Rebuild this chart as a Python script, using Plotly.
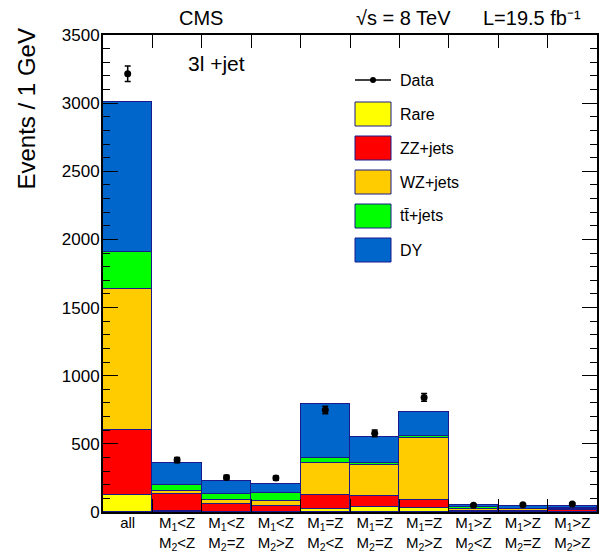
import numpy as np
import plotly.graph_objects as go

# ---------------- data ----------------
bins = ["all", "LL", "LZ", "LG", "ZL", "ZZ", "ZG", "GL", "GZ", "GG"]
tick_labels = [
    "all",
    "M<sub>1</sub>&lt;Z<br>M<sub>2</sub>&lt;Z",
    "M<sub>1</sub>&lt;Z<br>M<sub>2</sub>=Z",
    "M<sub>1</sub>&lt;Z<br>M<sub>2</sub>&gt;Z",
    "M<sub>1</sub>=Z<br>M<sub>2</sub>&lt;Z",
    "M<sub>1</sub>=Z<br>M<sub>2</sub>=Z",
    "M<sub>1</sub>=Z<br>M<sub>2</sub>&gt;Z",
    "M<sub>1</sub>&gt;Z<br>M<sub>2</sub>&lt;Z",
    "M<sub>1</sub>&gt;Z<br>M<sub>2</sub>=Z",
    "M<sub>1</sub>&gt;Z<br>M<sub>2</sub>&gt;Z",
]
rare = [125, 4, 3, 3, 20, 39, 32, 3, 3, 3]
zz_jets = [475, 126, 56, 39, 105, 78, 56, 8, 8, 9]
wz_jets = [1035, 24, 26, 39, 232, 227, 457, 11, 10, 12]
tt_jets = [275, 44, 46, 56, 37, 17, 14, 17, 3, 3]
dy = [1095, 159, 95, 68, 398, 191, 176, 12, 20, 17]
data = [3215, 381, 254, 249, 748, 577, 841, 49, 54, 59]

series_names = ["Rare", "ZZ+jets", "WZ+jets", "t\u0074\u0304+jets", "DY"]
series_vals = [rare, zz_jets, wz_jets, tt_jets, dy]
series_colors = ["#FFFF00", "#FF0000", "#FFCC00", "#00FF00", "#0066CC"]
outline = "#1a1a8c"

FONT = "Liberation Sans, Arial, Helvetica, sans-serif"

fig = go.Figure()
for name, vals, col in zip(series_names, series_vals, series_colors):
    fig.add_trace(go.Bar(
        x=bins, y=vals, name=name, width=1,
        marker=dict(color=col, line=dict(color=outline, width=1)),
        showlegend=False,
    ))

fig.add_trace(go.Scatter(
    x=bins, y=data, mode="markers", name="Data",
    marker=dict(color="black", size=7),
    error_y=dict(type="data", array=np.sqrt(np.array(data, dtype=float)),
                 color="black", thickness=1.5, width=3),
    showlegend=False,
))

# ---------------- manual legend (ROOT style) ----------------
# window-pixel helpers -> paper coordinates (plot area spans x 103..597, y 35..512)
shapes = []
annotations = []
lx0, lx1 = 355, 391
px_w, px_h = 494.0, 477.0
def px(x):
    return (x - 103) / px_w
def py(y):
    return (512 - y) / px_h

shapes.append(dict(type="line", xref="paper", yref="paper",
                   x0=px(lx0), x1=px(lx1), y0=py(80), y1=py(80),
                   line=dict(color="black", width=1.5)))
shapes.append(dict(type="circle", xref="paper", yref="paper",
                   x0=px(373 - 3), x1=px(373 + 3), y0=py(80 - 3), y1=py(80 + 3),
                   fillcolor="black", line=dict(color="black", width=0)))
annotations.append(dict(text="Data", xref="paper", yref="paper", x=px(398), y=py(80),
                        xanchor="left", yanchor="middle", showarrow=False,
                        font=dict(size=16, color="black", family=FONT)))
for i, (name, col) in enumerate(zip(series_names, series_colors)):
    ytop = 102 + i * 34
    shapes.append(dict(type="rect", xref="paper", yref="paper",
                       x0=px(lx0), x1=px(lx1), y0=py(ytop + 24), y1=py(ytop),
                       fillcolor=col, line=dict(color=outline, width=1)))
    annotations.append(dict(text=name, xref="paper", yref="paper", x=px(398),
                            y=py(ytop + 12), xanchor="left", yanchor="middle",
                            showarrow=False,
                            font=dict(size=16, color="black", family=FONT)))

# ---------------- header / labels ----------------
annotations.append(dict(text="CMS", xref="paper", yref="paper", x=px(201), y=py(18),
                        xanchor="center", yanchor="middle", showarrow=False,
                        font=dict(size=20, color="black", family=FONT)))
annotations.append(dict(text="√s = 8 TeV", xref="paper", yref="paper", x=px(354), y=py(18),
                        xanchor="left", yanchor="middle", showarrow=False,
                        font=dict(size=20, color="black", family=FONT)))
annotations.append(dict(text="L=19.5 fb⁻¹", xref="paper", yref="paper",
                        x=px(481), y=py(18), xanchor="left", yanchor="middle",
                        showarrow=False, font=dict(size=20, color="black", family=FONT)))
annotations.append(dict(text="3l +jet", xref="paper", yref="paper", x=px(216), y=py(64),
                        xanchor="center", yanchor="middle", showarrow=False,
                        font=dict(size=21, color="black", family=FONT)))
annotations.append(dict(text="Events / 1 GeV", xref="paper", yref="paper",
                        x=px(26), y=py(27), xanchor="center", yanchor="top",
                        textangle=-90, showarrow=False,
                        font=dict(size=24, color="black", family=FONT)))

# page body has an 8px default margin, so the figure is 8px smaller and shifted
fig.update_layout(
    width=599, height=548,
    margin=dict(l=95, r=10, t=27, b=44, autoexpand=False),
    paper_bgcolor="white", plot_bgcolor="white",
    barmode="stack", bargap=0,
    font=dict(family=FONT, color="black"),
    shapes=shapes, annotations=annotations,
    showlegend=False,
)
fig.update_xaxes(
    type="category", categoryorder="array", categoryarray=bins,
    tickvals=bins, ticktext=tick_labels, automargin=False,
    tickson="boundaries", ticks="inside", ticklen=13, tickwidth=1, tickcolor="black",
    showline=True, linecolor="black", linewidth=2, mirror="ticks",
    showgrid=False, zeroline=False, range=[-0.5, 9.5], ticklabelstandoff=-4,
    tickfont=dict(size=15, color="black", family=FONT),
)
fig.update_yaxes(
    range=[0, 3500], tick0=0, dtick=500, automargin=False,
    ticks="inside", ticklen=15, tickwidth=1, tickcolor="black",
    minor=dict(dtick=100, ticks="inside", ticklen=7, tickcolor="black", tickwidth=1,
               showgrid=False),
    showline=True, linecolor="black", linewidth=2, mirror="ticks",
    showgrid=False, zeroline=False, ticklabelstandoff=-2,
    tickfont=dict(size=17, color="black", family=FONT),
)

fig.write_html("out.html")
